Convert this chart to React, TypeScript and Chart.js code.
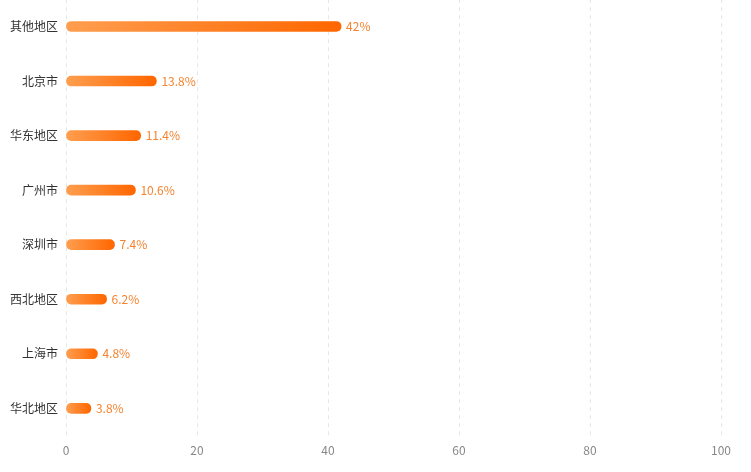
import React, { useEffect, useRef } from "react";
import { Chart, registerables } from "chart.js";

Chart.register(...registerables);

const categories = ["其他地区", "北京市", "华东地区", "广州市", "深圳市", "西北地区", "上海市", "华北地区"];
const shares = [42, 13.8, 11.4, 10.6, 7.4, 6.2, 4.8, 3.8];
const xTicks = [0, 20, 40, 60, 80, 100];

const FONT = "'Noto Sans CJK SC', 'Noto Sans', sans-serif";

const valueLabels = {
  id: "valueLabels",
  afterDatasetsDraw(chart: any) {
    const ctx = chart.ctx;
    const meta = chart.getDatasetMeta(0);
    ctx.save();
    ctx.font = `12px ${FONT}`;
    ctx.fillStyle = "#F5832F";
    ctx.textAlign = "left";
    ctx.textBaseline = "middle";
    meta.data.forEach((el: any, i: number) => {
      ctx.fillText(`${shares[i]}%`, el.x + 5, el.y);
    });
    ctx.restore();
  },
};

export default function App() {
  const ref = useRef<HTMLCanvasElement>(null);
  useEffect(() => {
    document.body.style.margin = "0";
    document.body.style.overflow = "hidden";
    const chart = new Chart(ref.current!, {
      type: "bar",
      data: {
        labels: categories,
        datasets: [
          {
            data: shares,
            barThickness: 10,
            borderRadius: 5,
            borderSkipped: false,
            backgroundColor: (c: any) => {
              const ch = c.chart;
              const x = ch.scales?.x;
              if (!ch.chartArea || !x || c.dataIndex === undefined) return "#FF7A1A";
              const x0 = x.getPixelForValue(0);
              const x1 = x.getPixelForValue(shares[c.dataIndex]);
              if (!isFinite(x0) || !isFinite(x1) || x1 - x0 < 1) return "#FF7A1A";
              const g = ch.ctx.createLinearGradient(x0, 0, x1, 0);
              g.addColorStop(0, "#FF9E4F");
              g.addColorStop(1, "#FF6600");
              return g;
            },
          },
        ],
      },
      options: {
        indexAxis: "y",
        responsive: true,
        maintainAspectRatio: false,
        animation: false,
        layout: { padding: { left: 2, right: 30, top: 0, bottom: 6 } },
        plugins: { legend: { display: false }, tooltip: { enabled: false } },
        scales: {
          x: {
            min: 0,
            max: 100,
            afterBuildTicks: (s: any) => {
              s.ticks = xTicks.map((v) => ({ value: v }));
            },
            grid: { color: "#E6E6E6", drawTicks: false },
            border: { display: false, dash: [4, 4] },
            ticks: { color: "#888", font: { size: 12, family: FONT }, padding: 8 },
          },
          y: {
            grid: { display: false, drawTicks: false },
            border: { display: false },
            ticks: { color: "#333", font: { size: 12, family: FONT }, padding: 8 },
          },
        },
      },
      plugins: [valueLabels],
    });
    return () => chart.destroy();
  }, []);
  return (
    <div style={{ position: "fixed", left: 0, top: 0, width: 751, height: 472, overflow: "hidden" }}>
      <div style={{ position: "absolute", left: 0, top: -16, width: 751, height: 488 }}>
        <canvas ref={ref} />
      </div>
    </div>
  );
}
